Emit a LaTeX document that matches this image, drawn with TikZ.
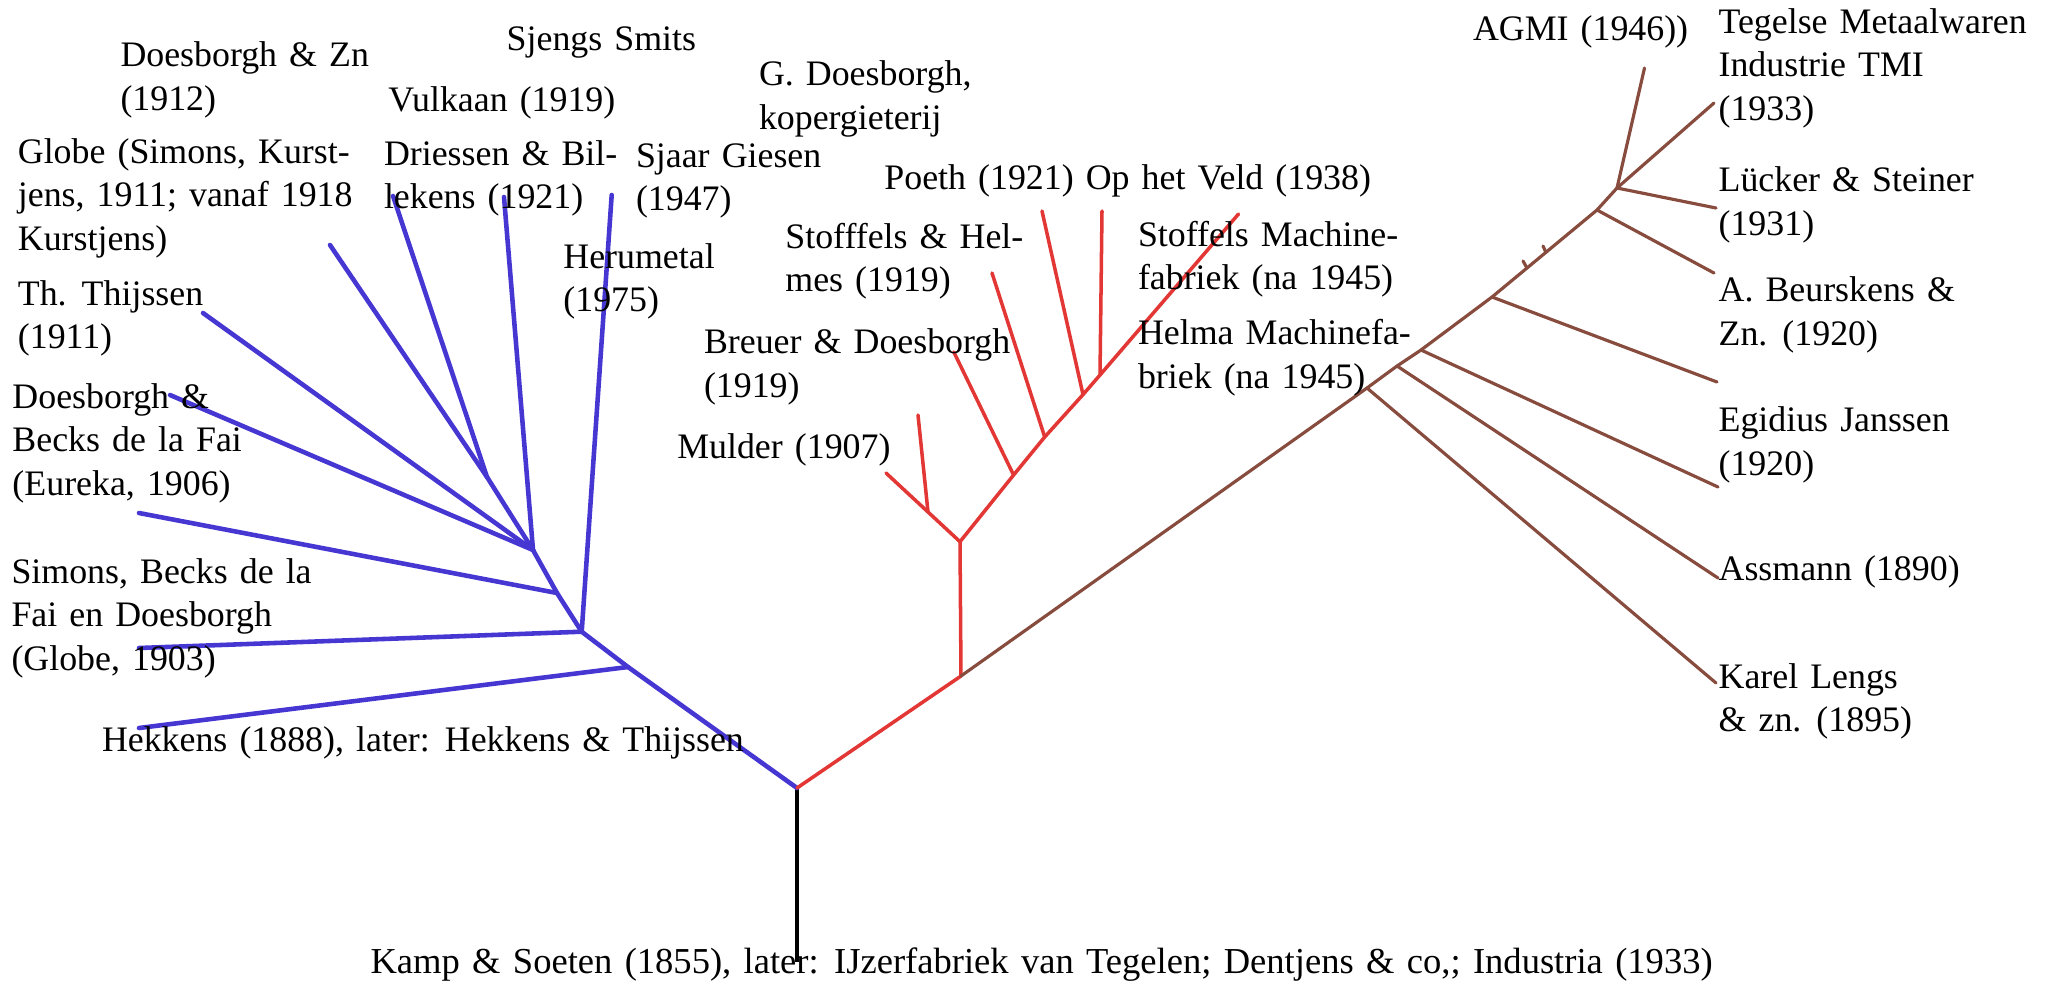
\documentclass[tikz,border=0pt]{standalone}
\usepackage{fontspec}
\setmainfont[WordSpace=1.35]{Liberation Serif}
\definecolor{tblue}{RGB}{70,55,210}
\definecolor{tred}{RGB}{226,55,52}
\definecolor{tbrown}{RGB}{135,76,62}
\newcommand{\mylines}[1]{\begin{tabular}[t]{@{}l@{}}#1\end{tabular}}
\tikzset{
  lab/.style={anchor=base west, inner sep=0pt, outer sep=0pt, font=\fontsize{10.2}{12.4}\selectfont},
  blueline/.style={draw=tblue, line width=1.3pt, line cap=round, line join=round},
  redline/.style={draw=tred, line width=1.0pt, line cap=round, line join=round},
  brownline/.style={draw=tbrown, line width=0.9pt, line cap=round, line join=round},
  rootline/.style={draw=black, line width=1.0pt},
}
\begin{document}
\begin{tikzpicture}[x=0.1mm, y=-0.1mm]
\useasboundingbox (0,0) rectangle (2050,983);
\fill[white] (0,0) rectangle (2050,983);

% ---------- junctions and leaves ----------
\coordinate (R)  at (797,788);
\coordinate (Rb) at (797,962);
% blue
\coordinate (bH) at (628,667);
\coordinate (bA) at (581.7,631.7);
\coordinate (bE) at (557,593);
\coordinate (bC) at (533,550);
\coordinate (bG) at (487,477);
\coordinate (lHekkens) at (139,728);
\coordinate (lGlobeA)  at (139,648);
\coordinate (lHerum)   at (611.7,195);
\coordinate (lEureka)  at (139,513);
\coordinate (lThijs)   at (203,313);
\coordinate (lBecks)   at (170,395);
\coordinate (lDriesB)  at (504,197);
\coordinate (lGlobeK)  at (330,245);
\coordinate (lDriesA)  at (393,196);
% red
\coordinate (rJ) at (961,676);
\coordinate (rV) at (960,541.7);
\coordinate (rM) at (928,512);
\coordinate (rL) at (886,473);
\coordinate (rT) at (918,415);
\coordinate (r1) at (1013.6,475);
\coordinate (r2) at (1044.7,437);
\coordinate (r3) at (1083,394.6);
\coordinate (r4) at (1100,375);
\coordinate (rTop) at (1238.5,214);
\coordinate (lBreuer) at (953.8,352);
\coordinate (lStofH)  at (992,273);
\coordinate (lPoeth)  at (1042,211);
\coordinate (lVeld)   at (1102,211);
% brown
\coordinate (n1) at (1367,388);
\coordinate (n2) at (1397,366);
\coordinate (n3) at (1421,350);
\coordinate (n4) at (1492,297);
\coordinate (n5) at (1597,210);
\coordinate (n6) at (1617,188);
\coordinate (lKarel)  at (1716,683);
\coordinate (lAssm)   at (1718,578);
\coordinate (lEgid)   at (1718,487);
\coordinate (lLoose)  at (1717,382);
\coordinate (lBeurs)  at (1714,273);
\coordinate (lAgmi)   at (1644.5,68);
\coordinate (lTmi)    at (1714,103);
\coordinate (lLuck)   at (1716,208);
\coordinate (tk1a) at (1527,268);
\coordinate (tk1b) at (1523,261);
\coordinate (tk2a) at (1546,252.5);
\coordinate (tk2b) at (1543,246);

% ---------- connectors ----------
\draw[rootline] (R) -- (Rb);
% blue tree
\draw[blueline] (R) -- (bH) -- (bA) -- (bE) -- (bC) -- (bG);
\draw[blueline] (bH) -- (lHekkens);
\draw[blueline] (bA) -- (lGlobeA);
\draw[blueline] (bA) -- (lHerum);
\draw[blueline] (bE) -- (lEureka);
\draw[blueline] (bC) -- (lThijs);
\draw[blueline] (bC) -- (lBecks);
\draw[blueline] (bC) -- (lDriesB);
\draw[blueline] (bG) -- (lGlobeK);
\draw[blueline] (bG) -- (lDriesA);
% red tree
\draw[redline] (R) -- (rJ) -- (rV);
\draw[redline] (rV) -- (rM) -- (rL);
\draw[redline] (rM) -- (rT);
\draw[redline] (rV) -- (r1) -- (r2) -- (r3) -- (r4) -- (rTop);
\draw[redline] (r1) -- (lBreuer);
\draw[redline] (r2) -- (lStofH);
\draw[redline] (r3) -- (lPoeth);
\draw[redline] (r4) -- (lVeld);
% brown tree
\draw[brownline] (rJ) -- (n1) -- (n2) -- (n3) -- (n4) -- (n5) -- (n6);
\draw[brownline] (n1) -- (lKarel);
\draw[brownline] (n2) -- (lAssm);
\draw[brownline] (n3) -- (lEgid);
\draw[brownline] (n4) -- (lLoose);
\draw[brownline] (n5) -- (lBeurs);
\draw[brownline] (n6) -- (lAgmi);
\draw[brownline] (n6) -- (lTmi);
\draw[brownline] (n6) -- (lLuck);
\draw[brownline] (tk1a) -- (tk1b);
\draw[brownline] (tk2a) -- (tk2b);

% ---------- labels ----------
\node[lab] (tDZ)     at (120.5,66.7) {\mylines{Doesborgh \& Zn\\(1912)}};
\node[lab] (tSjengs) at (506.7,50)   {Sjengs Smits};
\node[lab] (tVulk)   at (388.4,111.7) {Vulkaan (1919)};
\node[lab] (tGlobeK) at (17.9,163)   {\mylines{Globe (Simons, Kurst-\\jens, 1911; vanaf 1918\\Kurstjens)}};
\node[lab] (tDries)  at (384,165)    {\mylines{Driessen \& Bil-\\lekens (1921)}};
\node[lab] (tSjaar)  at (636,167)    {\mylines{Sjaar Giesen\\(1947)}};
\node[lab] (tHerum)  at (563.4,268)  {\mylines{Herumetal\\(1975)}};
\node[lab] (tThijs)  at (17.9,305)   {\mylines{Th. Thijssen\\(1911)}};
\node[lab] (tBecks)  at (12.5,408.3) {\mylines{Doesborgh \&\\Becks de la Fai\\(Eureka, 1906)}};
\node[lab] (tSimons) at (11.5,583.3) {\mylines{Simons, Becks de la\\Fai en Doesborgh\\(Globe, 1903)}};
\node[lab] (tHekk)   at (102,751.7)  {Hekkens (1888), later: Hekkens \& Thijssen};
\node[lab] (tGDoes)  at (759,85.7)   {\mylines{G. Doesborgh,\\kopergieterij}};
\node[lab] (tPoeth)  at (884.4,189.3) {Poeth (1921) Op het Veld (1938)};
\node[lab] (tStofH)  at (785.4,248.2) {\mylines{Stofffels \& Hel-\\mes (1919)}};
\node[lab] (tBreuer) at (704,353.6)  {\mylines{Breuer \& Doesborgh\\(1919)}};
\node[lab] (tMulder) at (677.3,458.9) {Mulder (1907)};
\node[lab] (tStofM)  at (1138,246.4) {\mylines{Stoffels Machine-\\fabriek (na 1945)}};
\node[lab] (tHelma)  at (1138,344.6) {\mylines{Helma Machinefa-\\briek (na 1945)}};
\node[lab] (tAgmi)   at (1473,40)    {AGMI (1946))};
\node[lab] (tTmi)    at (1718.6,33.3) {\mylines{Tegelse Metaalwaren\\Industrie TMI\\(1933)}};
\node[lab] (tLuck)   at (1718.6,191.7) {\mylines{Lücker \& Steiner\\(1931)}};
\node[lab] (tBeurs)  at (1718.6,301.7) {\mylines{A. Beurskens \&\\Zn. (1920)}};
\node[lab] (tEgid)   at (1718.6,431.7) {\mylines{Egidius Janssen\\(1920)}};
\node[lab] (tAssm)   at (1718.6,580) {Assmann (1890)};
\node[lab] (tKarel)  at (1718.6,688.3) {\mylines{Karel Lengs\\\& zn. (1895)}};
\node[lab, font=\fontsize{10.4}{12.4}\selectfont] (tKamp) at (370.5,973.3) {Kamp \& Soeten (1855), later: IJzerfabriek van Tegelen; Dentjens \& co,; Industria (1933)};
\end{tikzpicture}
\end{document}
